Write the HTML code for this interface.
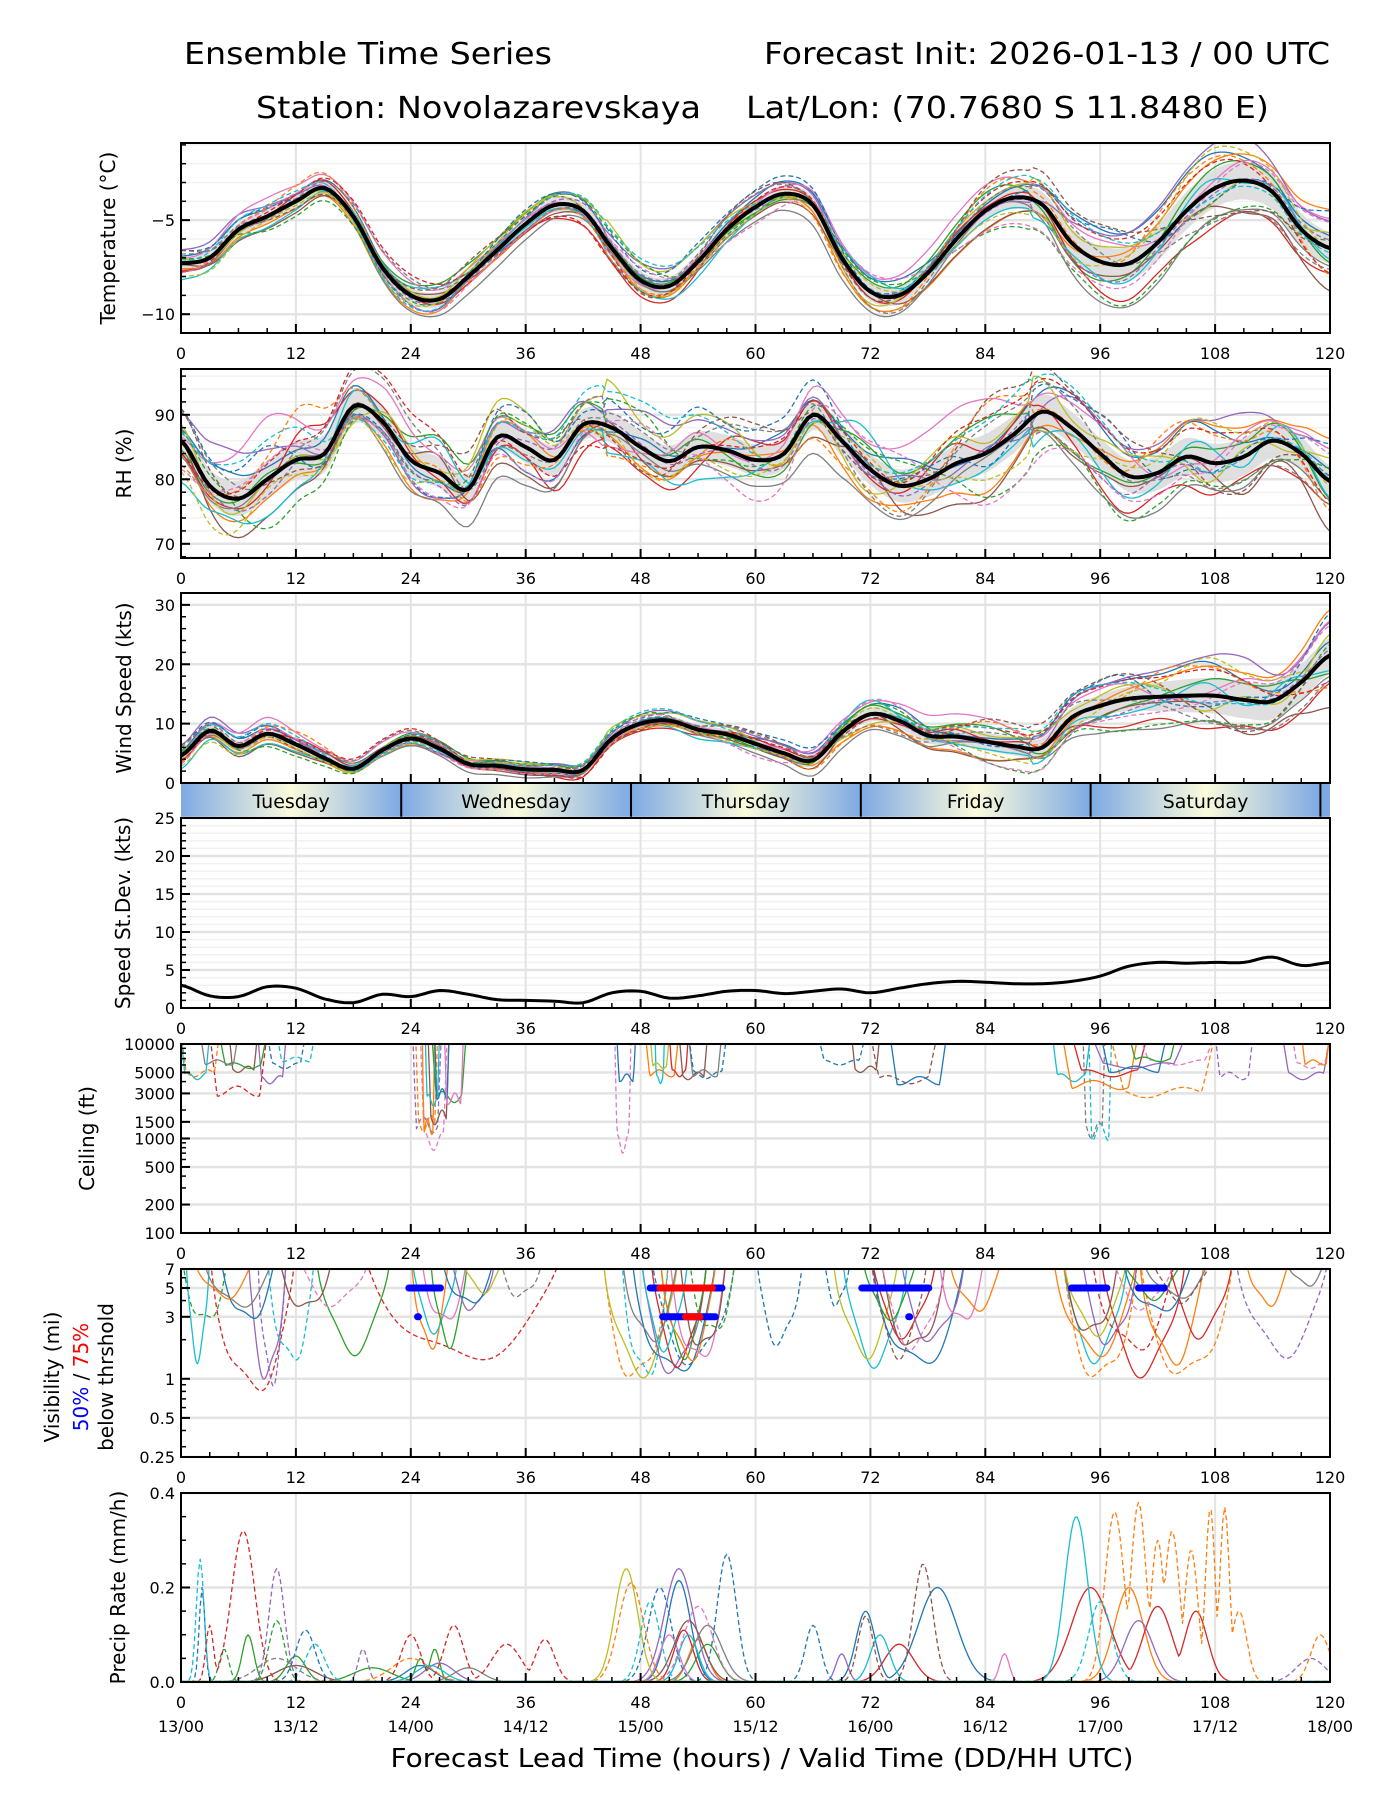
<!DOCTYPE html>
<html><head><meta charset="utf-8"><title>Ensemble Time Series</title>
<style>
html,body{margin:0;padding:0;background:#fff;}
svg{display:block;font-family:"DejaVu Sans","Liberation Sans",sans-serif;}
</style></head>
<body>
<svg id="chart" width="1400" height="1800" viewBox="0 0 1400 1800" xmlns="http://www.w3.org/2000/svg">
<defs id="defs"></defs>
<text x="184" y="64" font-size="30" textLength="368" lengthAdjust="spacingAndGlyphs">Ensemble Time Series</text>
<text x="764" y="64" font-size="30" textLength="566" lengthAdjust="spacingAndGlyphs">Forecast Init: 2026-01-13 / 00 UTC</text>
<text x="256" y="118" font-size="30" textLength="445" lengthAdjust="spacingAndGlyphs">Station: Novolazarevskaya</text>
<text x="746" y="118" font-size="30" textLength="523" lengthAdjust="spacingAndGlyphs">Lat/Lon: (70.7680 S 11.8480 E)</text>
<text x="762" y="1767" font-size="26" text-anchor="middle" textLength="743" lengthAdjust="spacingAndGlyphs">Forecast Lead Time (hours) / Valid Time (DD/HH UTC)</text>
</svg>
<script>
// ---------------- data ----------------
const hours3 = [0,3,6,9,12,15,18,21,24,27,30,33,36,39,42,45,48,51,54,57,60,63,66,69,72,75,78,81,84,87,90,93,96,99,102,105,108,111,114,117,120];
const tempMean = [-7.3,-7.0,-5.5,-4.8,-4.0,-3.3,-4.8,-7.5,-9.0,-9.2,-8.0,-6.6,-5.2,-4.2,-4.5,-6.5,-8.2,-8.5,-7.2,-5.5,-4.3,-3.6,-4.2,-7.0,-8.8,-9.0,-7.8,-6.0,-4.5,-3.8,-4.2,-6.2,-7.2,-7.3,-6.2,-4.5,-3.3,-2.9,-3.5,-5.5,-6.5];
const rhMean = [86,79,77,80,83,84,91.3,89,83,81,78.5,86.5,85,83,88.5,88,85,82.8,85,84.5,83,84,90,86,81.5,79,80,82.5,84,87,90.5,88,84,80.5,81,83.5,82.5,83.5,86,84,79.7];
const windMean = [4.6,8.8,6.2,8.3,6.5,4.2,2.4,5.5,7.5,5.8,3.2,2.9,2.3,2.2,2.2,7.5,10,10.5,9,8.2,6.6,5,3.8,8.5,11.6,10.5,8,7.8,7,6.2,6,11,13,14.2,14.5,14.7,14.7,14,13.8,17,21.5];
const speedStd = [3,1.6,1.5,2.8,2.6,1.2,0.7,1.8,1.5,2.3,1.8,1.1,1,0.9,0.7,2,2.2,1.3,1.6,2.2,2.3,1.9,2.2,2.5,2,2.6,3.2,3.5,3.4,3.2,3.2,3.5,4.2,5.5,6,5.9,6,6,6.7,5.6,6];
// spread (12-hourly) for each panel
const tempSpread = [0.6,0.6,0.7,0.6,0.8,0.7,0.8,0.9,1.4,1.7,1.4];
const rhSpread = [4,5,4,4,4,4,4,5,4,5,4];
const windSpread = [1.5,1.5,1,1,1.2,1.5,2,2.5,3,5,5];
// member deviation patterns (12-hourly knots, in spread units)
const memberPattern = [
[0.8,1.0,0.5,-0.2,0.3,0.9,1.2,0.6,1.4,1.2,0.5],
[-0.5,-0.8,-1.0,0.3,-0.6,-0.4,-0.9,-1.1,0.2,0.6,1.3],
[0.3,-0.2,0.9,1.1,0.4,-0.3,0.5,1.0,-0.8,0.9,-0.4],
[-1.0,0.4,-0.3,-0.9,-1.2,0.2,-0.5,0.3,-1.0,-1.4,-1.0],
[1.3,0.7,-0.6,0.5,0.9,1.1,0.2,-0.4,0.9,1.5,0.8],
[-0.2,-1.1,0.3,-0.5,0.1,-0.9,-0.2,-0.8,-0.3,-0.7,-1.3],
[0.6,1.5,1.0,0.2,-0.4,0.6,1.1,1.3,0.5,0.4,1.0],
[-0.7,0.1,-1.2,-1.3,-0.2,-1.2,-1.4,-0.1,-1.5,-1.0,-0.6],
[0.1,-0.4,0.2,0.8,1.3,0.3,-0.7,0.7,0.6,-0.3,0.3],
[-1.3,-0.6,0.7,-0.1,-0.9,-0.6,0.8,-0.6,-0.6,0.2,-0.2],
[1.0,0.3,-0.8,1.2,0.7,1.4,0.4,0.2,1.1,-0.5,1.4],
[-0.4,1.2,0.1,-0.7,-0.5,0.0,-1.1,0.9,0.1,1.1,-0.9],
[0.4,-1.3,-0.4,0.6,1.0,-0.7,0.9,-1.3,-1.2,-1.2,0.1],
[-0.9,0.6,1.3,-1.1,-1.0,0.5,-0.3,0.5,0.8,0.7,-1.1],
[0.2,-0.1,-0.1,0.1,0.5,-0.2,0.3,-0.3,-0.4,0.0,0.6],
[1.1,-0.9,0.6,0.9,-0.8,1.0,-0.6,1.2,1.3,-0.9,-0.3],
[-0.6,0.9,-0.7,-0.4,0.8,-1.0,1.3,-0.9,-0.9,0.3,0.9],
[0.5,0.2,1.1,-0.8,0.2,0.8,-1.0,0.1,0.4,-1.3,-0.7],
[-1.1,-0.3,-0.5,1.0,-0.3,-0.5,0.6,-0.5,-0.1,1.3,0.2],
[0.0,0.8,-1.1,0.4,1.1,0.3,-0.4,0.8,0.7,-0.2,-0.5]
];
// ceiling dips: [member, startHour, endHour, minFeet]
const ceilDips = [
[13,3,9,2800],[11,0,4,4500],[9,0,3,4200],[4,8,11,3800],[10,9,13,5500],[5,5,8,5000],[2,4,9,5500],[7,2,6,6000],[19,10,14,6500],
[14,24.2,27.2,1150],[16,25,27.8,750],[11,24.5,26.8,1200],[1,25.2,26.5,1100],[5,25.8,28,1400],[2,26.2,29.8,2400],[9,25.5,27,2200],[0,26.5,28,2600],[6,27.5,29.5,2300],
[16,45.3,47,700],[0,45.5,47.5,4000],[1,48.5,52,4500],[9,49.5,50.5,3800],[8,49,51,5500],[3,51,53,4500],[5,52,55,4200],[7,53,56.5,4500],[10,53,57,4300],
[10,66.5,71.5,6000],[15,72,79,3800],[0,74,80,3700],[5,70,73,5000],
[17,94.2,96.5,1000],[19,94.8,97.2,950],[9,91,95,4000],[1,92,100,3300],[3,93,101,4500],[11,97,108,2700],[4,95,105,5500],[0,96,103,5000],[14,108,112,4200],[16,100,108,6000],[2,99,104,6500],
[4,115,120,4200],[16,116,120,5500],[1,117,120,6000]
];
// visibility dips: [member, startHour, endHour, minMiles]
const visDips = [
[13,3,12,0.7],[12,0,5,2.5],[9,0.5,3,1.3],[4,7,11,0.9],[14,8,11,0.85],[19,9,14,1.2],[2,14,22,1.5],[16,12,20,3.5],[5,10,16,3.2],[7,2,10,3.4],[0,4,10,2.6],[1,1,8,4],
[13,19,40,1.25],[1,24,28,1.6],[9,24,29,2.2],[6,25,30,2.5],[2,26,30,1.7],[4,28,33,3.2],[0,27,33,3.5],[8,29,34,4.5],[17,33,38,4],
[11,44,51,0.85],[8,44,52,1.0],[19,46,51,0.9],[0,47,56,0.95],[4,48,55,1.0],[3,49,55,1.2],[2,50,55,1.4],[10,49,58,1.2],[1,50,56,1.3],[6,51,57,1.2],[5,52,57,1.5],[7,46,52,1.8],[9,48,53,1.6],[12,53,58,2],[10,60,65,1.7],
[9,69,76,1.2],[8,68,75,1.4],[0,72,82,1.1],[5,73,80,1.5],[3,72,79,2],[16,73,80,1.6],[15,72,78,1.4],[4,75,82,1.8],[2,71,77,2.8],[10,67,70,3.5],[6,79,84,2.5],[1,80,86,3.2],
[9,92,99,1.3],[1,91,100,1.4],[11,92,100,0.85],[3,96,105,1.0],[4,94,100,1.7],[5,92,98,2.0],[8,92,99,2.1],[1,100,107,1.2],[11,100,110,0.9],[3,103,110,2],[13,95,104,1.5],[0,98,106,3],[2,98,105,4],[7,100,108,4],[16,97,104,3.3],[15,101,108,3.8],
[14,110,120,1.4],[1,111,116,3.5],[7,115,120,5]
];
// threshold bars: [startHour, endHour, level]
const vis50Bars = [[23.8,27.1,5],[49,56.5,5],[71.1,78.1,5],[93,96.7,5],[100,102.7,5],[24.7,24.8,3],[50.3,55.8,3],[76,76.1,3]];
const vis75Bars = [[50,55.5,5],[52.7,54.2,3]];
// precip events: [member, centerHour, peak, widthHours]
const precipEvents = [
[19,2,0.26,0.4],[10,2.2,0.2,0.3],[13,6.5,0.32,1.2],[13,3,0.12,0.4],[14,10,0.24,0.8],[12,10,0.13,0.8],[12,4.5,0.07,0.5],
[2,7,0.1,0.6],[2,12,0.055,1],[10,13,0.11,1],[19,14,0.08,1],[17,10,0.05,2],[5,12,0.035,2],[14,19,0.07,0.5],[2,20,0.03,2],
[13,24,0.1,1],[13,28.5,0.12,1],[13,34,0.08,1.5],[13,38,0.09,1],[2,26.5,0.07,0.5],[2,25,0.05,0.5],[11,24,0.05,2],
[0,25,0.035,1.5],[4,27,0.04,1.5],[7,30,0.03,1.5],[9,26,0.035,1.5],
[8,46.5,0.24,1.2],[11,47,0.21,1.3],[19,49,0.17,1],[10,50,0.2,1.2],[10,57,0.27,1],[0,52,0.215,1.2],[4,52,0.24,1.5],[16,54,0.16,1.5],
[3,52.5,0.11,1],[5,53,0.13,1.5],[6,51,0.1,1],[7,55,0.12,1.5],[9,53,0.1,1],[1,54,0.09,1],[2,55,0.08,1.2],
[10,66,0.12,0.8],[4,69,0.06,0.6],[0,71.5,0.15,1],[15,71.5,0.14,0.8],[9,73,0.1,1],[15,77.5,0.25,1],[0,79,0.2,2],[3,75,0.08,1.5],[6,86,0.06,0.5],
[9,93.5,0.35,1.2],[11,97.5,0.36,1.0],[11,100,0.38,0.8],[11,102,0.3,0.7],[11,103.5,0.32,0.8],[11,105.5,0.28,0.7],[11,107.5,0.37,0.5],[11,109,0.37,0.5],[11,110.5,0.15,0.8],
[3,95,0.2,2],[1,99,0.2,1.5],[3,102,0.16,1.5],[19,96,0.17,1.2],[3,106,0.15,1.2],[4,100,0.13,1.5],
[11,119,0.1,1],[14,118,0.05,1.5]
];
const xTickLabels = ["0","12","24","36","48","60","72","84","96","108","120"];
const dateLabels = ["13/00","13/12","14/00","14/12","15/00","15/12","16/00","16/12","17/00","17/12","18/00"];
const dayNames = ["Tuesday","Wednesday","Thursday","Friday","Saturday"];
const dayBounds = [0,23,47,71,95,119,120];

// ---------------- layout ----------------
const X0 = 181, X1 = 1330;
const NS = "http://www.w3.org/2000/svg";
const svg = document.getElementById('chart');
const defs = document.getElementById('defs');
const colors = ["#1f77b4","#ff7f0e","#2ca02c","#d62728","#9467bd","#8c564b","#e377c2","#7f7f7f","#bcbd22","#17becf"];
function mColor(m){ return colors[m%10]; }
function mDash(m){ return m>=10 ? "5,3" : null; }
function xS(h){ return X0 + h*(X1-X0)/120; }
function mk(tag, parent){ const e=document.createElementNS(NS,tag); (parent||svg).appendChild(e); return e; }
function interp(arr, step, h){
  const n=arr.length; let t=h/step; let i=Math.floor(t); if(i>=n-1){i=n-2;} if(i<0)i=0; const f=t-i;
  const p0=arr[Math.max(i-1,0)], p1=arr[i], p2=arr[i+1], p3=arr[Math.min(i+2,n-1)];
  return 0.5*((2*p1)+(-p0+p2)*f+(2*p0-5*p1+4*p2-p3)*f*f+(-p0+3*p1-3*p2+p3)*f*f*f);
}
const panels = {
  temp:{top:143,bottom:333,min:-11,max:-0.9},
  rh:{top:369,bottom:558,min:67.8,max:97.1},
  wind:{top:593,bottom:783,min:0,max:32},
  sd:{top:818,bottom:1008,min:0,max:25},
  ceil:{top:1044,bottom:1233,min:100,max:10000,log:true},
  vis:{top:1269,bottom:1457,min:0.25,max:7,log:true},
  precip:{top:1493,bottom:1682,min:0,max:0.4}
};
function yS(p,v){
  if(p.log){ return p.bottom-(Math.log(v)-Math.log(p.min))/(Math.log(p.max)-Math.log(p.min))*(p.bottom-p.top); }
  return p.bottom-(v-p.min)/(p.max-p.min)*(p.bottom-p.top);
}
function panelGroup(key,p){
  const cp=mk('clipPath',defs); cp.setAttribute('id','clip'+key);
  const r=mk('rect',cp); r.setAttribute('x',X0); r.setAttribute('y',p.top); r.setAttribute('width',X1-X0); r.setAttribute('height',p.bottom-p.top);
  const g=mk('g'); g.setAttribute('clip-path','url(#clip'+key+')');
  return g;
}
function drawGrid(p, majors, minors){
  const g=mk('g');
  
  
  (minors||[]).forEach(v=>{ const l=mk('line',g); l.setAttribute('x1',X0); l.setAttribute('x2',X1); l.setAttribute('y1',yS(p,v)); l.setAttribute('y2',yS(p,v)); l.setAttribute('stroke','#f2f2f2'); l.setAttribute('stroke-width','1.5'); });
  majors.forEach(v=>{ const l=mk('line',g); l.setAttribute('x1',X0); l.setAttribute('x2',X1); l.setAttribute('y1',yS(p,v)); l.setAttribute('y2',yS(p,v)); l.setAttribute('stroke','#e3e3e3'); l.setAttribute('stroke-width','2.5'); });
  for(let h=12;h<120;h+=12){ const l=mk('line',g); l.setAttribute('x1',xS(h)); l.setAttribute('x2',xS(h)); l.setAttribute('y1',p.top); l.setAttribute('y2',p.bottom); l.setAttribute('stroke','#e3e3e3'); l.setAttribute('stroke-width','2'); }
}
function yTitle(parent,text,x,cy){
  const tx=mk('text',parent); tx.setAttribute('x',x); tx.setAttribute('y',cy); tx.setAttribute('font-size','20'); tx.setAttribute('text-anchor','middle'); tx.setAttribute('dominant-baseline','central'); tx.setAttribute('transform','rotate(-90 '+x+' '+cy+')'); tx.textContent=text;
  return tx;
}
function drawAxes(p, name, labelText, labelX, yMajors, yLabels, yMinors, noXLabels){
  const g=mk('g');
  
  
  for(let h=0;h<=120;h+=3){
    const major=h%12===0; const l=mk('line',g);
    l.setAttribute('x1',xS(h)); l.setAttribute('x2',xS(h)); l.setAttribute('y1',p.bottom); l.setAttribute('y2',p.bottom-(major?9:5));
    l.setAttribute('stroke','#000'); l.setAttribute('stroke-width', major?2:1.5);
  }
  if(!noXLabels){
  xTickLabels.forEach((t,i)=>{ const tx=mk('text',g); tx.setAttribute('x',xS(i*12)); tx.setAttribute('y',p.bottom+26); tx.setAttribute('font-size','16'); tx.setAttribute('text-anchor','middle'); tx.textContent=t;
    
     });
  }
  (yMinors||[]).forEach(v=>{ const l=mk('line',g); l.setAttribute('x1',X0); l.setAttribute('x2',X0+5); l.setAttribute('y1',yS(p,v)); l.setAttribute('y2',yS(p,v)); l.setAttribute('stroke','#000'); l.setAttribute('stroke-width','1.5'); });
  yMajors.forEach((v,i)=>{ const l=mk('line',g); l.setAttribute('x1',X0); l.setAttribute('x2',X0+9); l.setAttribute('y1',yS(p,v)); l.setAttribute('y2',yS(p,v)); l.setAttribute('stroke','#000'); l.setAttribute('stroke-width','2');
    const tx=mk('text',g); tx.setAttribute('x',X0-6); tx.setAttribute('y',yS(p,v)+6); tx.setAttribute('font-size','16'); tx.setAttribute('text-anchor','end'); tx.textContent=yLabels[i];
    
     });
  const fr=mk('rect',g); fr.setAttribute('x',X0); fr.setAttribute('y',p.top); fr.setAttribute('width',X1-X0); fr.setAttribute('height',p.bottom-p.top); fr.setAttribute('fill','none'); fr.setAttribute('stroke','#000'); fr.setAttribute('stroke-width','2');
  if(labelText){
    const tx=yTitle(g,labelText,labelX,(p.top+p.bottom)/2);
    
    
  }
}
function pathFrom(p, fn, h0, h1, step){
  let d=''; for(let h=h0; h<=h1+1e-9; h+=step){ const v=fn(h); d+=(d?'L':'M')+xS(h).toFixed(1)+','+yS(p,v).toFixed(1); } return d;
}
function addPath(g,d,color,width,dash){
  const e=mk('path',g); e.setAttribute('d',d); e.setAttribute('fill','none'); e.setAttribute('stroke',color); e.setAttribute('stroke-width',width); if(dash) e.setAttribute('stroke-dasharray',dash); e.setAttribute('stroke-linejoin','round'); return e;
}
function ensemblePanel(key, mean, spread, wiggle){
  const p=panels[key]; const g=panelGroup(key,p);
  
  
  const meanF=h=>interp(mean,3,h);
  const spF=h=>interp(spread,12,h);
  let d=pathFrom(p,h=>meanF(h)+0.6*spF(h),0,120,0.5);
  let back=''; for(let h=120; h>=0; h-=0.5){ back+='L'+xS(h).toFixed(1)+','+yS(p,meanF(h)-0.6*spF(h)).toFixed(1); }
  const band=mk('path',g); band.setAttribute('d',d+back+'Z'); band.setAttribute('fill','#d9d9d9'); band.setAttribute('opacity','0.85');
  
  
  memberPattern.forEach((pat,m)=>{
    const pat2=memberPattern[(m+7)%20];
    const f=h=>meanF(h)+spF(h)*(interp(pat,12,h)+wiggle*interp(pat2,12,(h*2.7)%120));
    const e=addPath(g,pathFrom(p,f,0,120,0.5),mColor(m),1.3,mDash(m));
    
    
  });
  const ml=addPath(g,pathFrom(p,meanF,0,120,0.5),'#000',4,null);
  
  
}
function range(a,b,s){ const r=[]; for(let v=a; v<=b+1e-9; v+=s) r.push(+v.toFixed(4)); return r; }

// temperature
drawGrid(panels.temp,[-10,-5],range(-11,-1,1));
ensemblePanel('temp',tempMean,tempSpread,0.25);
drawAxes(panels.temp,'temperature','Temperature (°C)',108,[-10,-5],['−10','−5'],range(-11,-1,1));
// RH
drawGrid(panels.rh,[70,80,90],range(68,96,2));
ensemblePanel('rh',rhMean,rhSpread,0.5);
drawAxes(panels.rh,'rh','RH (%)',124,[70,80,90],['70','80','90'],range(68,96,2));
// wind
drawGrid(panels.wind,[0,10,20,30],[]);
ensemblePanel('wind',windMean,windSpread,0.35);
drawAxes(panels.wind,'wind','Wind Speed (kts)',124,[0,10,20,30],['0','10','20','30'],range(0,32,2),true);

// day bar
(function(){
  const g=mk('g');
  
  
  for(let i=0;i<dayBounds.length-1;i++){
    const gr=mk('linearGradient',defs); gr.setAttribute('id','dayg'+i);
    [['0','#7ea9e3'],['0.5','#fbfbdc'],['1','#7ea9e3']].forEach(s=>{ const st=mk('stop',gr); st.setAttribute('offset',s[0]); st.setAttribute('stop-color',s[1]); });
    const x0=xS(dayBounds[i]), x1=xS(dayBounds[i+1]);
    const r=mk('rect',g); r.setAttribute('x',x0); r.setAttribute('y',784); r.setAttribute('width',x1-x0); r.setAttribute('height',34); r.setAttribute('fill', i<5?'url(#dayg'+i+')':'#7ea9e3');
    
    
    if(i<5){ const t=mk('text',g); t.setAttribute('x',(x0+x1)/2); t.setAttribute('y',808); t.setAttribute('font-size','19'); t.setAttribute('text-anchor','middle'); t.textContent=dayNames[i];
      
       }
    if(i>0){ const l=mk('line',g); l.setAttribute('x1',x0); l.setAttribute('x2',x0); l.setAttribute('y1',784); l.setAttribute('y2',818); l.setAttribute('stroke','#000'); l.setAttribute('stroke-width','2'); }
  }
})();

// speed std
drawGrid(panels.sd,[0,5,10,15,20,25],range(0,25,1));
(function(){ const p=panels.sd; const g=panelGroup('sd',p);
  
  
  const e=addPath(g,pathFrom(p,h=>interp(speedStd,3,h),0,120,0.5),'#000',3,null);
  
   })();
drawAxes(panels.sd,'speed-stdev','Speed St.Dev. (kts)',123,[0,5,10,15,20,25],['0','5','10','15','20','25'],range(0,25,1));

// ceiling
drawGrid(panels.ceil,[100,200,500,1000,1500,3000,5000,10000],[]);
(function(){ const p=panels.ceil; const g=panelGroup('ceil',p);
  
  
  const lt=Math.log(13000);
  ceilDips.forEach(dp=>{
    const m=dp[0], s=dp[1], e=dp[2], lm=Math.log(dp[3]);
    const f=h=>{ const t=(h-s)/(e-s); const k=Math.min(1,Math.sin(Math.PI*Math.max(0,Math.min(1,t)))*2.5); return Math.exp(lt-(lt-lm)*k*(0.92+0.08*Math.sin(t*9+m))); };
    const el=addPath(g,pathFrom(p,f,Math.max(0,s-0.3),Math.min(120,e+0.3),0.1),mColor(m),1.3,mDash(m));
    
    
  }); })();
drawAxes(panels.ceil,'ceiling','Ceiling (ft)',87,[100,200,500,1000,1500,3000,5000,10000],['100','200','500','1000','1500','3000','5000','10000'],[300,400,600,700,800,900,2000,4000,6000,7000,8000,9000]);

// visibility
drawGrid(panels.vis,[0.25,0.5,1,3,5,7],[]);
(function(){ const p=panels.vis; const g=panelGroup('vis',p);
  
  
  const lt=Math.log(12);
  visDips.forEach(dp=>{
    const m=dp[0], s=dp[1], e=dp[2], lm=Math.log(dp[3]);
    const f=h=>{ const t=Math.max(0,Math.min(1,(h-s)/(e-s))); const k=Math.pow(Math.sin(Math.PI*t),0.6); return Math.exp(lt-(lt-lm)*k*(0.93+0.07*Math.sin(t*11+m))); };
    const el=addPath(g,pathFrom(p,f,Math.max(0,s),Math.min(120,e),0.1),mColor(m),1.3,mDash(m));
    
    
  });
  const drawBars=(bars,color,name)=>{ bars.forEach(b=>{ const l=mk('line',g); l.setAttribute('x1',xS(b[0])); l.setAttribute('x2',xS(b[1])); l.setAttribute('y1',yS(p,b[2])); l.setAttribute('y2',yS(p,b[2])); l.setAttribute('stroke',color); l.setAttribute('stroke-width','7'); l.setAttribute('stroke-linecap','round');
    
     }); };
  drawBars(vis50Bars,'#0000ff','threshold-50-bar');
  drawBars(vis75Bars,'#ff0000','threshold-75-bar');
})();
drawAxes(panels.vis,'visibility',null,0,[0.25,0.5,1,3,5,7],['0.25','0.5','1','3','5','7'],[0.3,0.4,0.6,0.7,0.8,0.9,2,4,6]);
(function(){ const cy=1377;
  const t1=yTitle(svg,'Visibility (mi)',52,cy);
  
  
  const t3=yTitle(svg,'below thrshold',106,cy);
  
  
  const t2=yTitle(svg,'',81,cy);
  
  
  const a=mk('tspan',t2); a.setAttribute('fill','#0000ff'); a.textContent='50%';
  const b=mk('tspan',t2); b.textContent=' / ';
  const c=mk('tspan',t2); c.setAttribute('fill','#ff0000'); c.textContent='75%';
})();

// precip
drawGrid(panels.precip,[0,0.2,0.4],[]);
(function(){ const p=panels.precip; const g=panelGroup('precip',p);
  
  
  for(let m=0;m<20;m++){
    const ev=precipEvents.filter(e=>e[0]===m);
    const f=h=>{ let v=0.002; ev.forEach(e=>{ const z=(h-e[1])/e[3]; v=Math.max(v,e[2]*Math.exp(-0.5*z*z)); }); return v; };
    const el=addPath(g,pathFrom(p,f,0,120,0.2),mColor(m),1.3,mDash(m));
    
    
  } })();
drawAxes(panels.precip,'precip','Precip Rate (mm/h)',118,[0,0.2,0.4],['0.0','0.2','0.4'],range(0,0.4,0.05));
dateLabels.forEach((t,i)=>{ const tx=mk('text'); tx.setAttribute('x',xS(i*12)); tx.setAttribute('y',1732); tx.setAttribute('font-size','16'); tx.setAttribute('text-anchor','middle'); tx.textContent=t;
  
   });
</script>
</body></html>
